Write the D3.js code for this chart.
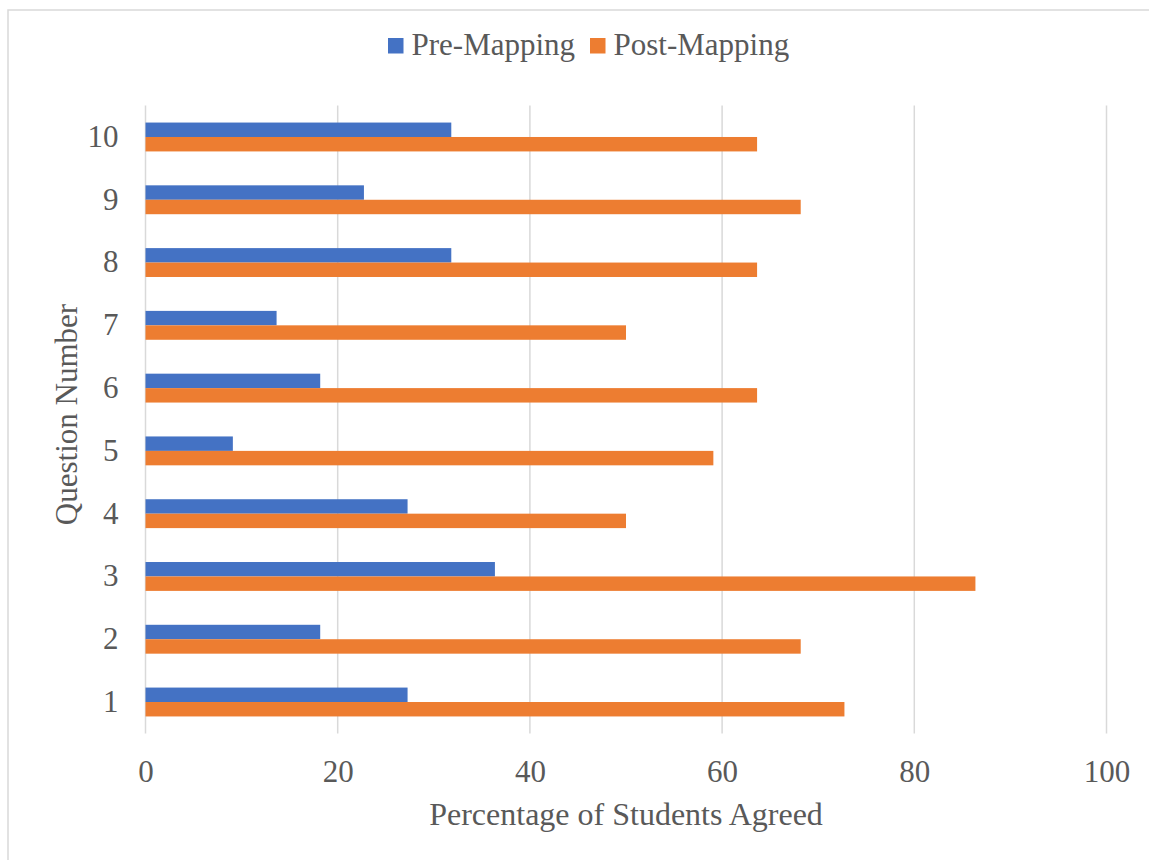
<!DOCTYPE html>
<html>
<head>
<meta charset="utf-8">
<script src="https://d3js.org/d3.v7.min.js"></script>
<style>
  body { margin: 0; background: #fff; }
  text { font-family: "Liberation Serif", "Times New Roman", serif; fill: #595959; }
</style>
</head>
<body>
<div id="chart"></div>
<script>
// question numbers, top row first as drawn
var questions = ["10", "9", "8", "7", "6", "5", "4", "3", "2", "1"];
var series = ["Pre-Mapping", "Post-Mapping"];
// values by question 1..10
var preMapping  = [27.27, 18.18, 36.36, 27.27, 9.09, 18.18, 13.64, 31.82, 22.73, 31.82];
var postMapping = [72.73, 68.18, 86.36, 50.00, 59.09, 63.64, 50.00, 63.64, 68.18, 63.64];
var xTicks = [0, 20, 40, 60, 80, 100];

var color = d3.scaleOrdinal().domain(series).range(["#4472C4", "#ED7D31"]);

var W = 1149, H = 860;
var margin = {top: 105.6, right: 42.5, bottom: 126.6, left: 145.5};
var width = W - margin.left - margin.right;
var height = H - margin.top - margin.bottom;

var dataset = [];
for (var i = 0; i < 10; i++) {
  dataset.push({q: String(i + 1), "Pre-Mapping": preMapping[i], "Post-Mapping": postMapping[i]});
}

var svgRoot = d3.select("#chart").append("svg").attr("width", W).attr("height", H);

// chart border (right and bottom fall outside the picture)
svgRoot.append("rect")
  .attr("x", 8).attr("y", 10).attr("width", W + 20).attr("height", H + 20)
  .attr("fill", "none").attr("stroke", "#d9d9d9").attr("stroke-width", 1.5);

var svg = svgRoot.append("g").attr("transform", "translate(" + margin.left + "," + margin.top + ")");

var px = d3.scaleLinear().domain([0, 100]).range([0, width]);
var py = d3.scaleBand().domain(questions).range([0, height]).paddingInner(0.54).paddingOuter(0.27);
var pyInner = d3.scaleBand().domain(series).range([0, py.bandwidth()]);

// gridlines
svg.append("g").selectAll("line").data(xTicks).enter().append("line")
  .attr("x1", function(d) { return px(d); })
  .attr("x2", function(d) { return px(d); })
  .attr("y1", 0).attr("y2", height)
  .attr("stroke", "#d9d9d9").attr("stroke-width", 1.5);

// bars
var groups = svg.append("g").selectAll("g").data(dataset).enter().append("g")
  .attr("transform", function(d) { return "translate(0," + py(d.q) + ")"; });

groups.selectAll("rect").data(function(d) {
    return series.map(function(s) { return {key: s, value: d[s]}; });
  }).enter().append("rect")
  .attr("x", px(0))
  .attr("y", function(d) { return pyInner(d.key); })
  .attr("width", function(d) { return px(d.value) - px(0); })
  .attr("height", pyInner.bandwidth())
  .style("fill", function(d) { return color(d.key); });

// x axis labels
var xAxis = svg.append("g").attr("transform", "translate(0," + height + ")")
  .call(d3.axisBottom(px).tickValues(xTicks).tickSize(0).tickPadding(27));
xAxis.select(".domain").remove();
xAxis.selectAll("text").style("font-size", "31px").attr("fill", "#595959");

// y axis labels
var yAxis = svg.append("g")
  .call(d3.axisLeft(py).tickSize(0).tickPadding(27));
yAxis.select(".domain").remove();
yAxis.selectAll("text").style("font-size", "31px").attr("fill", "#595959");

// axis titles
svg.append("text")
  .attr("x", width / 2).attr("y", height + 92)
  .attr("text-anchor", "middle").style("font-size", "32px")
  .text("Percentage of Students Agreed");

svg.append("text")
  .attr("transform", "translate(" + (77 - margin.left) + "," + (height / 2 - 5) + ") rotate(-90)")
  .attr("text-anchor", "middle").style("font-size", "31px")
  .text("Question Number");

// legend
var legendX = [388, 590];
var legend = svgRoot.append("g").selectAll("g").data(series).enter().append("g")
  .attr("transform", function(d, i) { return "translate(" + legendX[i] + ",38)"; });
legend.append("rect").attr("width", 15.5).attr("height", 15.5)
  .style("fill", function(d) { return color(d); });
legend.append("text").attr("x", 23.5).attr("y", 17)
  .style("font-size", "31px")
  .text(function(d) { return d; });
</script>
</body>
</html>
